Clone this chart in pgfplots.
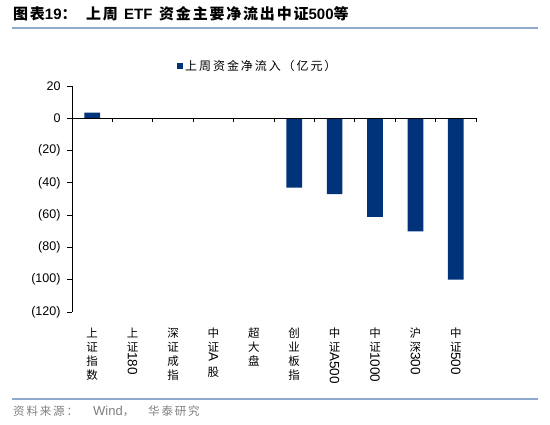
\documentclass[border=0pt]{standalone}
\usepackage{fontspec}
\usepackage{pgfplots}
\pgfplotsset{compat=1.18}
\setmainfont{Liberation Sans}
\newfontfamily\cjk{Noto Sans CJK SC}
\newfontfamily\cjkw[LetterSpace=16]{Noto Sans CJK SC}
\newfontfamily\cjkt[LetterSpace=12]{Noto Sans CJK SC}
\definecolor{barblue}{HTML}{00337A}
\definecolor{rulecol}{HTML}{8DA9CB}
\definecolor{srcgray}{HTML}{7F7F7F}
\begin{document}
\begin{tikzpicture}[x=1pt,y=1pt]
\useasboundingbox (0,0) rectangle (550,425);
% title and top rule
\begin{scope}[every node/.style={anchor=base west, inner sep=0pt, font=\bfseries\fontsize{15}{17}\selectfont}]
\node at (13,405) {{\cjkt 图表}19{\cjk ：}};
\node at (86,405) {\cjkt 上周};
\node at (124,405) {ETF};
\node at (159,405) {{\cjkt 资金主要净流出中证}500{\cjk 等}};
\end{scope}
\draw[rulecol, line width=1.4pt] (12,397) -- (538,397);

\begin{axis}[
    at={(72pt,113pt)}, anchor=south west,
    scale only axis, width=404pt, height=226pt,
    clip=false,
    xmin=-0.5, xmax=9.5,
    ymin=-120, ymax=20,
    axis y line*=left, axis x line*=bottom,
    x axis line style={draw=none},
    y axis line style={black, line width=1pt},
    tick align=outside,
    major tick length=5pt,
    xtick={0,...,9},
    xtick style={draw=none},
    % Chinese characters stacked; latin parts come from the extra ticks below
    xticklabels={
        {上\\证\\指\\数},
        {上\\证},
        {深\\证\\成\\指},
        {中\\证\\[11pt]股},
        {超\\大\\盘},
        {创\\业\\板\\指},
        {中\\证},
        {中\\证},
        {沪\\深},
        {中\\证}},
    xticklabel style={align=center, anchor=north, yshift=-7pt,
        font=\cjk\fontsize{11.5}{14}\selectfont},
    extra x ticks={1,3,6,7,8,9},
    extra x tick labels={180,A,A500,1000,300,500},
    extra x tick style={
        major tick length=0pt,
        xticklabel style={font=\fontsize{13.5}{15}\selectfont,
            yshift=-33pt, rotate=-90, anchor=west, inner sep=0pt}},
    ytick={-120,-100,...,20},
    yticklabels={(120),(100),(80),(60),(40),(20),0,20},
    ytick style={black, line width=0.8pt},
    yticklabel style={font=\fontsize{12.5}{14}\selectfont, xshift=-3pt},
    ybar, bar width=15.7pt,
    legend style={at={(0.46,1.088)}, anchor=center, draw=none, fill=none,
        font=\cjkw\fontsize{12}{14}\selectfont},
    legend image code/.code={\fill[barblue] (0pt,-3pt) rectangle (6pt,3pt);},
]
\addplot[fill=barblue, draw=none] coordinates {
    (0,3.5) (1,0) (2,0) (3,0) (4,0)
    (5,-43) (6,-47) (7,-61) (8,-70) (9,-100)
};
\addlegendentry{上周资金净流入（亿元）}
% zero line with category boundary ticks
\draw[black, line width=1.2pt] (axis cs:-0.5,0) -- (axis cs:9.5,0);
\pgfplotsinvokeforeach{0.5,1.5,2.5,3.5,4.5,5.5,6.5,7.5,8.5,9.5}{
    \draw[black, line width=0.8pt] (axis cs:#1,0) -- ++(0pt,-4pt);
}
\end{axis}

% bottom rule and source
\draw[rulecol, line width=1.2pt] (12,26) -- (538,26);
\begin{scope}[every node/.style={anchor=base west, inner sep=0pt, text=srcgray}]
\node[font=\cjkw\fontsize{11.5}{13}\selectfont] at (13,9) {资料来源：};
\node[font=\fontsize{13}{15}\selectfont] at (93,9) {Wind{\cjk\fontsize{11.5}{13}\selectfont ，}};
\node[font=\cjkw\fontsize{11.5}{13}\selectfont] at (148,9) {华泰研究};
\end{scope}
\end{tikzpicture}
\end{document}
